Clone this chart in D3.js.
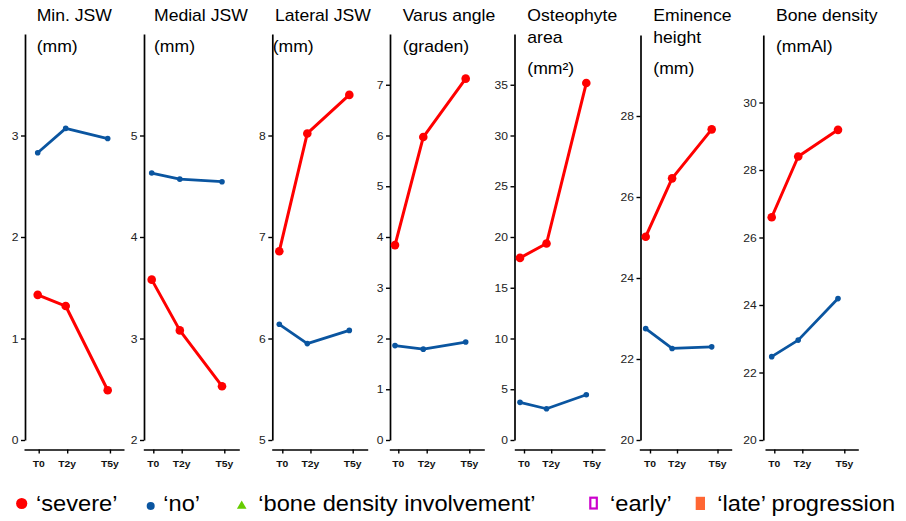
<!DOCTYPE html>
<html>
<head>
<meta charset="utf-8">
<script src="https://cdn.jsdelivr.net/npm/d3@7"></script>
<style>
  html, body { margin: 0; padding: 0; background: #fff; }
  svg { display: block; font-family: "Liberation Sans", Arial, Helvetica, sans-serif; }
</style>
</head>
<body>
<svg id="chart" width="906" height="521"></svg>
<script>
// ---------- DATA ----------
const timePoints = [0, 2, 5];
const timeLabels = ["T0", "T2y", "T5y"];
const titles = [["Min. JSW"], ["Medial JSW"], ["Lateral JSW"], ["Varus angle"], ["Osteophyte", "area"], ["Eminence", "height"], ["Bone density"]];
const units = ["(mm)", "(mm)", "(mm)", "(graden)", "(mm²)", "(mm)", "(mmAl)"];
const severeValues = [
  [1.43, 1.32, 0.49],
  [3.58, 3.08, 2.53],
  [6.86, 8.02, 8.40],
  [3.84, 5.97, 7.12],
  [17.94, 19.36, 35.17],
  [25.02, 26.46, 27.67],
  [26.60, 28.40, 29.19]
];
const noValues = [
  [2.83, 3.07, 2.97],
  [4.63, 4.57, 4.545],
  [6.14, 5.95, 6.08],
  [1.86, 1.79, 1.93],
  [3.71, 3.08, 4.46],
  [22.75, 22.26, 22.30],
  [22.47, 22.96, 24.19]
];
const yDomains = [[0, 4], [2, 6], [5, 9], [0, 8], [0, 40], [20, 30], [20, 32]];
const yTickValues = [
  [0, 1, 2, 3],
  [2, 3, 4, 5],
  [5, 6, 7, 8],
  [0, 1, 2, 3, 4, 5, 6, 7],
  [0, 5, 10, 15, 20, 25, 30, 35],
  [20, 22, 24, 26, 28],
  [20, 22, 24, 26, 28, 30]
];
const legendLabels = ["‘severe’", "‘no’", "‘bone density involvement’", "‘early’", "‘late’ progression"];

// ---------- LAYOUT ----------
const layout = [
  { ax: 25,    lineL: 24,    lineR: 124,   t0: 38.7,  k: 14.25, p0: 37.7,  pk: 14.0,  top: 34, tx: 36.7,  ux: 36.7 },
  { ax: 144,   lineL: 143.3, lineR: 239.3, t0: 153.3, k: 14.2,  p0: 151.7, pk: 14.06, top: 34, tx: 154,   ux: 154 },
  { ax: 272.3, lineL: 271.7, lineR: 367.7, t0: 282.3, k: 14.08, p0: 279.3, pk: 14.0,  top: 34, tx: 275,   ux: 272.7 },
  { ax: 390,   lineL: 389.3, lineR: 484.3, t0: 398.3, k: 14.2,  p0: 395,   pk: 14.14, top: 34, tx: 402.7, ux: 402.7 },
  { ax: 514.5, lineL: 514.3, lineR: 605,   t0: 524,   k: 13.6,  p0: 520,   pk: 13.26, top: 34, tx: 527.3, ux: 527.3 },
  { ax: 640.5, lineL: 639.3, lineR: 731.7, t0: 650,   k: 13.5,  p0: 645.7, pk: 13.2,  top: 35, tx: 653.3, ux: 653.3 },
  { ax: 763.3, lineL: 765,   lineR: 858.3, t0: 774.3, k: 14.0,  p0: 771.7, pk: 13.26, top: 35, tx: 776,   ux: 776 }
];
const yBottom = 440;
const xAxisY = 449.5;
const SX = 1.1; // horizontal text stretch of the reference
const red = "#ff0000", blue = "#0a55a0";

const svg = d3.select("#chart");

function stretchedText(parent, x, y, str, opts) {
  const t = parent.append("text")
    .attr("transform", `translate(${x},${y}) scale(${SX},1)`)
    .attr("x", 0).attr("y", 0)
    .style("font-size", opts.size + "px")
    .attr("fill", opts.fill || "#000")
    .text(str);
  if (opts.anchor) t.attr("text-anchor", opts.anchor);
  if (opts.weight) t.style("font-weight", opts.weight);
  return t;
}

layout.forEach((L, i) => {
  const g = svg.append("g");
  const y = d3.scaleLinear().domain(yDomains[i]).range([yBottom, L.top]);
  const xAxisScale = d3.scaleLinear()
    .domain([(L.lineL - L.t0) / L.k, (L.lineR - L.t0) / L.k])
    .range([L.lineL, L.lineR]);
  const xPts = d3.scaleLinear().domain([0, 5]).range([L.p0, L.p0 + 5 * L.pk]);

  // y axis
  const yAxis = d3.axisLeft(y).tickValues(yTickValues[i]).tickSize(4).tickSizeOuter(0).tickFormat(() => "");
  const yg = g.append("g").attr("transform", `translate(${L.ax},0)`).call(yAxis);
  yg.selectAll("path.domain").attr("stroke", "#000").attr("stroke-width", 1.7);
  yg.selectAll(".tick line").attr("stroke", "#000").attr("stroke-width", 1.4);
  yTickValues[i].forEach(v => {
    stretchedText(g, L.ax - 6.5, y(v) + 4, d3.format("d")(v), { size: 11, anchor: "end", fill: "#222" });
  });

  // x axis
  const xAxis = d3.axisBottom(xAxisScale).tickValues(timePoints).tickSize(4).tickSizeOuter(0).tickFormat(() => "");
  const xg = g.append("g").attr("transform", `translate(0,${xAxisY})`).call(xAxis);
  xg.selectAll("path.domain").attr("stroke", "#000").attr("stroke-width", 1.7);
  xg.selectAll(".tick line").attr("stroke", "#000").attr("stroke-width", 1.4);
  timePoints.forEach((t, j) => {
    stretchedText(g, xAxisScale(t), 467, timeLabels[j], { size: 9.4, anchor: "middle", weight: "bold", fill: "#111" });
  });

  // titles
  titles[i].forEach((line, j) => {
    stretchedText(g, L.tx, 21 + j * 22.3, line, { size: 16 });
  });
  const unitY = titles[i].length > 1 ? 74 : 51.5;
  stretchedText(g, L.ux, unitY, units[i], { size: 16 });

  // series
  const line = d3.line().x((d, j) => xPts(timePoints[j])).y(d => y(d));
  const series = [
    { vals: noValues[i], color: blue, r: 2.8, w: 2.8 },
    { vals: severeValues[i], color: red, r: 4.3, w: 3 }
  ];
  series.forEach(s => {
    g.append("path").datum(s.vals).attr("d", line)
      .attr("fill", "none").attr("stroke", s.color).attr("stroke-width", s.w)
      .attr("stroke-linejoin", "round");
    g.selectAll(null).data(s.vals).enter().append("circle")
      .attr("cx", (d, j) => xPts(timePoints[j])).attr("cy", d => y(d))
      .attr("r", s.r).attr("fill", s.color);
  });
});

// ---------- LEGEND ----------
const lg = svg.append("g");
lg.append("circle").attr("cx", 21.7).attr("cy", 503.5).attr("r", 5.6).attr("fill", red);
stretchedText(lg, 36, 510.5, legendLabels[0], { size: 21.5 });
lg.append("circle").attr("cx", 150.7).attr("cy", 506).attr("r", 4).attr("fill", blue);
stretchedText(lg, 163.3, 510.5, legendLabels[1], { size: 21.5 });
lg.append("path").attr("d", d3.symbol().type(d3.symbolTriangle).size(40)())
  .attr("transform", "translate(241.7,506)").attr("fill", "#66cc00");
stretchedText(lg, 258.3, 510.5, legendLabels[2], { size: 21.5 });
lg.append("rect").attr("x", 590.3).attr("y", 497.7).attr("width", 6.5).attr("height", 10.8)
  .attr("fill", "none").attr("stroke", "#cc00cc").attr("stroke-width", 2.2);
stretchedText(lg, 610, 510.5, legendLabels[3], { size: 21.5 });
lg.append("rect").attr("x", 695.7).attr("y", 496.8).attr("width", 9.3).attr("height", 13.2)
  .attr("fill", "#ff6633");
stretchedText(lg, 717.3, 510.5, legendLabels[4], { size: 21.5 });
</script>
</body>
</html>
